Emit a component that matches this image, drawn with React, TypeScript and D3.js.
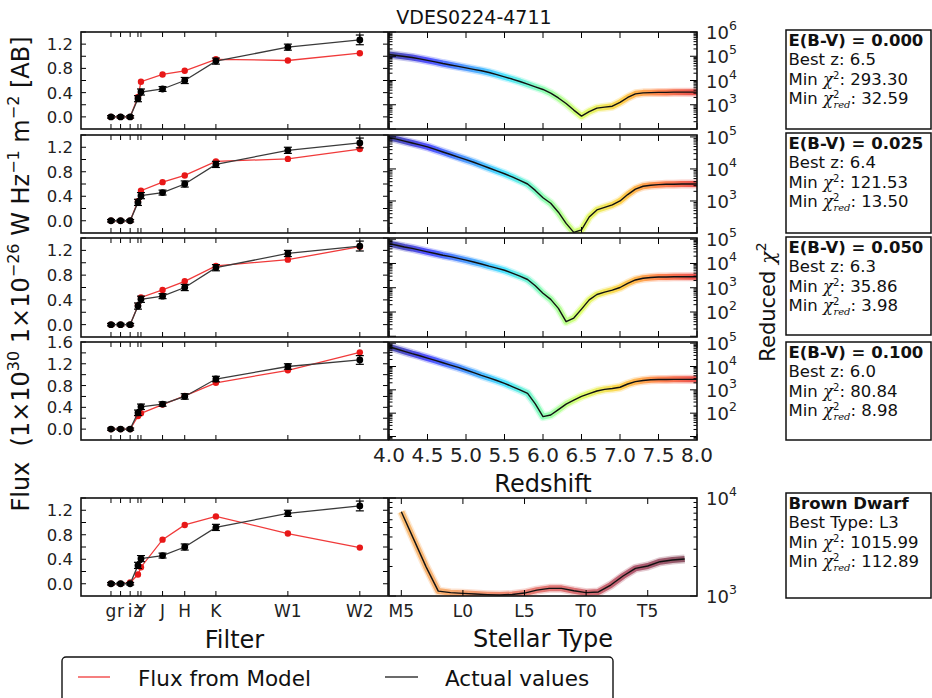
import * as d3 from 'd3';

// photometry (filter effective positions in micron, flux in 1e-26 W/Hz/m2)
const FILTERS = ['g', 'r', 'i', 'z', 'Y', 'J', 'H', 'K', 'W1', 'W2'];
const FILTER_WL = [0.45, 0.61, 0.77, 0.9, 0.95, 1.31, 1.68, 2.2, 3.4, 4.6];
const ACTUAL = [0, 0, 0, 0.3, 0.41, 0.46, 0.6, 0.92, 1.15, 1.27];
const ACTUAL_ERR = [0.02, 0.02, 0.02, 0.05, 0.05, 0.04, 0.05, 0.05, 0.05, 0.08];
const MODEL_000 = [0, 0, 0, 0.33, 0.58, 0.7, 0.76, 0.95, 0.93, 1.05];
const MODEL_025 = [0, 0, 0, 0.32, 0.49, 0.63, 0.74, 0.97, 1.01, 1.17];
const MODEL_050 = [0, 0, 0, 0.31, 0.44, 0.56, 0.7, 0.95, 1.05, 1.26];
const MODEL_100 = [0, 0, 0, 0.24, 0.29, 0.45, 0.61, 0.85, 1.08, 1.41];
const MODEL_BD = [0, 0, 0.02, 0.15, 0.27, 0.72, 0.96, 1.1, 0.82, 0.59];

// reduced chi2 vs redshift (log10)
const REDSHIFT = [4.0, 4.1, 4.2, 4.3, 4.4, 4.5, 4.6, 4.7, 4.8, 4.9, 5.0, 5.1, 5.2, 5.3, 5.4, 5.5, 5.6, 5.7, 5.8, 5.9,
  6.0, 6.1, 6.2, 6.3, 6.4, 6.5, 6.6, 6.7, 6.8, 6.9, 7.0, 7.1, 7.2, 7.3, 7.4, 7.5, 7.6, 7.7, 7.8, 7.9, 8.0];
const LOGCHI_000 = [5.07, 5.03, 4.99, 4.95, 4.89, 4.83, 4.77, 4.7, 4.64, 4.58, 4.52, 4.46, 4.4, 4.33, 4.24, 4.15, 4.06, 3.96, 3.85, 3.74,
  3.63, 3.48, 3.28, 3.05, 2.78, 2.53, 2.72, 2.86, 2.9, 2.94, 3.1, 3.3, 3.45, 3.49, 3.5, 3.51, 3.51, 3.52, 3.52, 3.52, 3.52];
const LOGCHI_025 = [4.98, 4.93, 4.87, 4.81, 4.75, 4.69, 4.61, 4.53, 4.45, 4.37, 4.29, 4.21, 4.12, 4.03, 3.94, 3.85, 3.75, 3.64, 3.53, 3.33,
  3.1, 2.93, 2.65, 2.3, 2.02, 2.1, 2.5, 2.72, 2.8, 2.88, 3.0, 3.2, 3.37, 3.46, 3.49, 3.51, 3.52, 3.52, 3.53, 3.53, 3.53];
const LOGCHI_050 = [4.82, 4.75, 4.68, 4.62, 4.55, 4.48, 4.41, 4.34, 4.28, 4.21, 4.14, 4.06, 3.98, 3.89, 3.81, 3.72, 3.6, 3.48, 3.34, 3.08,
  2.77, 2.52, 2.15, 1.6, 1.75, 2.12, 2.5, 2.72, 2.82, 2.9, 3.01, 3.18, 3.32, 3.39, 3.42, 3.44, 3.44, 3.45, 3.45, 3.45, 3.45];
const LOGCHI_100 = [4.85, 4.75, 4.65, 4.55, 4.46, 4.36, 4.26, 4.16, 4.06, 3.96, 3.85, 3.74, 3.62, 3.51, 3.4, 3.28, 3.14, 3.0, 2.85, 2.4,
  1.85, 1.92, 2.15, 2.39, 2.56, 2.72, 2.84, 2.95, 3.02, 3.06, 3.11, 3.25, 3.35, 3.4, 3.43, 3.44, 3.44, 3.45, 3.45, 3.45, 3.45];

// brown dwarf templates (M5 = 5 ... T8 = 28)
const SPT = [5, 6, 7, 8, 9, 10, 11, 12, 13, 14, 15, 16, 17, 18, 19, 20, 21, 22, 23, 24, 25, 26, 27, 28];
const LOGCHI_BD = [3.86, 3.58, 3.3, 3.05, 3.034, 3.027, 3.02, 3.014, 3.01, 3.016, 3.03, 3.06, 3.078, 3.078, 3.054, 3.034,
  3.041, 3.112, 3.204, 3.282, 3.306, 3.35, 3.367, 3.378];
const SPT_TICKS = [5, 10, 15, 20, 25];
const SPT_LABELS = ['M5', 'L0', 'L5', 'T0', 'T5'];

const EBV = ['0.000', '0.025', '0.050', '0.100'];
const BEST_Z = ['6.5', '6.4', '6.3', '6.0'];
const MIN_CHI2 = ['293.30', '121.53', '35.86', '80.84'];
const MIN_CHIRED = ['32.59', '13.50', '3.98', '8.98'];
const MODELS = [MODEL_000, MODEL_025, MODEL_050, MODEL_100];
const CHIS = [LOGCHI_000, LOGCHI_025, LOGCHI_050, LOGCHI_100];
const Z_TICKS = [4.0, 4.5, 5.0, 5.5, 6.0, 6.5, 7.0, 7.5, 8.0];

// layout
const FONT = 'DejaVu Sans, Verdana, sans-serif';
const LX0 = 81, LX1 = 388, RX0 = 389, RX1 = 697;
const ROWS = [[32, 129], [135, 233], [238, 337], [342, 440]];
const BD_ROW = [498, 596];
const FLUX_MAX = [1.4, 1.4, 1.4, 1.6];
const LOG_RANGE = [[2, 6], [2.0, 5.06], [0.97, 5.05], [0.85, 5.05]];
const LOG_LABELS = [[3, 4, 5, 6], [3, 4, 5], [2, 3, 4, 5], [2, 3, 4, 5]];
const BOX_X0 = 786, BOX_X1 = 931;
const BOX_ROWS = [[30, 129], [133, 233], [237, 335], [342, 440]];
const BD_BOX = [493, 598];

const xF = d3.scaleLinear().domain([-0.05, 5.07]).range([LX0, LX1]);
const xZ = d3.scaleLinear().domain([4, 8]).range([RX0, RX1]);
const xS = d3.scaleLinear().domain([4, 29]).range([RX0, RX1]);

function FluxPanel({ y0, y1, model, fmax }: any) {
  const y = d3.scaleLinear().domain([-0.2, fmax]).range([y1, y0]);
  const line = d3.line<number>().x((_, i) => xF(FILTER_WL[i])).y(d => y(d));
  const yt = d3.range(0, fmax + 0.001, 0.2);
  const labels = yt.filter(v => Math.round(v * 10) % 4 === 0);
  return (
    <g>
      <path d={line(model) || ''} fill="none" stroke="#f03a3a" strokeWidth={1.3} />
      {model.map((v: number, i: number) => <circle key={i} cx={xF(FILTER_WL[i])} cy={y(v)} r={3.2} fill="#e81818" />)}
      <path d={line(ACTUAL) || ''} fill="none" stroke="#3a3a3a" strokeWidth={1.3} />
      {ACTUAL.map((v, i) => {
        const cx = xF(FILTER_WL[i]), e = ACTUAL_ERR[i];
        return (
          <g key={i} stroke="#000" strokeWidth={1.2}>
            <line x1={cx} x2={cx} y1={y(v - e)} y2={y(v + e)} />
            <line x1={cx - 4} x2={cx + 4} y1={y(v - e)} y2={y(v - e)} />
            <line x1={cx - 4} x2={cx + 4} y1={y(v + e)} y2={y(v + e)} />
            <circle cx={cx} cy={y(v)} r={3.4} fill="#000" stroke="none" />
          </g>
        );
      })}
      <g stroke="#000" strokeWidth={1}>
        {FILTER_WL.map((w, i) => (
          <g key={i}>
            <line x1={xF(w)} x2={xF(w)} y1={y0} y2={y0 + 5} />
            <line x1={xF(w)} x2={xF(w)} y1={y1} y2={y1 - 5} />
          </g>
        ))}
        {yt.map((v, i) => (
          <g key={i}>
            <line x1={LX0} x2={LX0 + 5} y1={y(v)} y2={y(v)} />
            <line x1={LX1} x2={LX1 - 5} y1={y(v)} y2={y(v)} />
          </g>
        ))}
      </g>
      {labels.map((v, i) => (
        <text key={i} x={73} y={y(v) + 6} textAnchor="end" fontSize={16.5} fill="#222">{v.toFixed(1)}</text>
      ))}
      <rect x={LX0} y={y0} width={LX1 - LX0} height={y1 - y0} fill="none" stroke="#111" strokeWidth={1.6} />
    </g>
  );
}

function LogPanel({ y0, y1, xs, xs0, xsv, vals, lo, hi, labels, grad, xticks, clip }: any) {
  const y = d3.scaleLog().domain([10 ** lo, 10 ** hi]).range([y1, y0]);
  const line = d3.line<number>().x((_, i) => xs(xsv[i])).y(d => y(10 ** d));
  const path = line(vals) || '';
  const majors: number[] = [], minors: number[] = [];
  for (let k = Math.floor(lo); k <= Math.ceil(hi); k++) {
    if (k >= lo && k <= hi) majors.push(10 ** k);
    for (let m = 2; m <= 9; m++) {
      const v = m * 10 ** k;
      if (Math.log10(v) >= lo && Math.log10(v) <= hi) minors.push(v);
    }
  }
  return (
    <g>
      <clipPath id={clip}><rect x={xs0} y={y0} width={RX1 - xs0} height={y1 - y0} /></clipPath>
      <g clipPath={`url(#${clip})`}>
        <path d={path} fill="none" stroke={`url(#${grad})`} strokeWidth={9} strokeOpacity={0.22} strokeLinejoin="round" />
        <path d={path} fill="none" stroke={`url(#${grad})`} strokeWidth={6} strokeOpacity={0.6} strokeLinejoin="round" />
        <path d={path} fill="none" stroke="#111" strokeWidth={1.4} strokeLinejoin="round" />
      </g>
      <g stroke="#000" strokeWidth={1}>
        {xticks.map((t: number, i: number) => (
          <g key={i}>
            <line x1={xs(t)} x2={xs(t)} y1={y0} y2={y0 + 6} />
            <line x1={xs(t)} x2={xs(t)} y1={y1} y2={y1 - 6} />
          </g>
        ))}
        {majors.map((v, i) => (
          <g key={i}>
            <line x1={RX0} x2={RX0 + 7} y1={y(v)} y2={y(v)} />
            <line x1={RX1} x2={RX1 - 7} y1={y(v)} y2={y(v)} />
          </g>
        ))}
        {minors.map((v, i) => (
          <g key={i}>
            <line x1={RX0} x2={RX0 + 3.5} y1={y(v)} y2={y(v)} />
            <line x1={RX1} x2={RX1 - 3.5} y1={y(v)} y2={y(v)} />
          </g>
        ))}
      </g>
      {labels.map((k: number) => (
        <text key={k} x={706} y={y(10 ** k) + 7} fontSize={18} fill="#222">
          10<tspan dy={-9} fontSize={12.5}>{k}</tspan>
        </text>
      ))}
      <rect x={RX0} y={y0} width={RX1 - RX0} height={y1 - y0} fill="none" stroke="#111" strokeWidth={1.6} />
    </g>
  );
}

function Chi({ sub }: { sub?: boolean }) {
  return (
    <>
      <tspan fontFamily="DejaVu Serif, serif" fontStyle="italic">χ</tspan>
      <tspan dy={-6} fontSize={10}>2</tspan>
      {sub ? <tspan dx={-6} dy={10} fontSize={10} fontFamily="DejaVu Serif, serif" fontStyle="italic">red</tspan> : null}
      <tspan dy={sub ? -4 : 6}>:</tspan>
    </>
  );
}

function InfoBox({ y0, y1, title, line2, chi2, chired }: any) {
  const x = BOX_X0 + 2.5;
  return (
    <g fontSize={16.5} fill="#111">
      <rect x={BOX_X0} y={y0} width={BOX_X1 - BOX_X0} height={y1 - y0} fill="#fff" stroke="#111" strokeWidth={1.5} />
      <text x={x} y={y0 + 15.5} fontWeight="bold">{title}</text>
      <text x={x} y={y0 + 35}>{line2}</text>
      <text x={x} y={y0 + 55} style={{ whiteSpace: 'pre' }}>Min <Chi /> {chi2}</text>
      <text x={x} y={y0 + 74} style={{ whiteSpace: 'pre' }}>Min <Chi sub /> {chired}</text>
    </g>
  );
}

export default function App() {
  const jet = ['#00007f', '#0000ff', '#0070ff', '#00d8ff', '#60ff98', '#d0ff30', '#ffc000', '#ff5000', '#e00000'];
  const heat = ['#f7a23a', '#f5862e', '#e85a30', '#d83a34', '#c02a34', '#8a1030', '#5a0a22'];
  return (
    <svg width={932} height={698} style={{ position: 'absolute', left: 0, top: 0, background: '#fff' }} fontFamily={FONT}>
      <defs>
        <linearGradient id="jet" gradientUnits="userSpaceOnUse" x1={RX0} x2={RX1} y1={0} y2={0}>
          {jet.map((c, i) => <stop key={i} offset={i / (jet.length - 1)} stopColor={c} />)}
        </linearGradient>
        <linearGradient id="heat" gradientUnits="userSpaceOnUse" x1={xS(5)} x2={xS(28)} y1={0} y2={0}>
          {heat.map((c, i) => <stop key={i} offset={i / (heat.length - 1)} stopColor={c} />)}
        </linearGradient>
      </defs>
      <rect width={932} height={698} fill="#fff" />
      <text x={474} y={24} textAnchor="middle" fontSize={19} fill="#111">VDES0224-4711</text>

      {ROWS.map(([y0, y1], i) => (
        <g key={i}>
          <FluxPanel y0={y0} y1={y1} model={MODELS[i]} fmax={FLUX_MAX[i]} />
          <LogPanel y0={y0} y1={y1} xs={xZ} xs0={RX0} xsv={REDSHIFT} vals={CHIS[i]} lo={LOG_RANGE[i][0]} hi={LOG_RANGE[i][1]}
            labels={LOG_LABELS[i]} grad="jet" xticks={Z_TICKS} clip={`c${i}`} />
          <InfoBox y0={BOX_ROWS[i][0]} y1={BOX_ROWS[i][1]} title={`E(B-V) = ${EBV[i]}`} line2={`Best z: ${BEST_Z[i]}`}
            chi2={MIN_CHI2[i]} chired={MIN_CHIRED[i]} />
        </g>
      ))}
      {Z_TICKS.map(t => (
        <text key={t} x={xZ(t)} y={462} textAnchor="middle" fontSize={20} fill="#222">{t.toFixed(1)}</text>
      ))}
      <text x={543} y={492} textAnchor="middle" fontSize={24} fill="#111">Redshift</text>

      <FluxPanel y0={BD_ROW[0]} y1={BD_ROW[1]} model={MODEL_BD} fmax={1.4} />
      <LogPanel y0={BD_ROW[0]} y1={BD_ROW[1]} xs={xS} xs0={RX0} xsv={SPT} vals={LOGCHI_BD} lo={3} hi={4}
        labels={[3, 4]} grad="heat" xticks={SPT_TICKS} clip="cbd" />
      <InfoBox y0={BD_BOX[0]} y1={BD_BOX[1]} title="Brown Dwarf" line2="Best Type: L3" chi2="1015.99" chired="112.89" />
      {FILTERS.map((f, i) => (
        <text key={f} x={xF(FILTER_WL[i])} y={617} textAnchor="middle" fontSize={17} fill="#222">{f}</text>
      ))}
      {SPT_TICKS.map((t, i) => (
        <text key={t} x={xS(t)} y={617} textAnchor="middle" fontSize={17} fill="#222">{SPT_LABELS[i]}</text>
      ))}
      <text x={234.5} y={648} textAnchor="middle" fontSize={24} fill="#111">Filter</text>
      <text x={543} y={647} textAnchor="middle" fontSize={24} fill="#111">Stellar Type</text>

      <text transform="translate(29,274) rotate(-90)" textAnchor="middle" fontSize={24} fill="#111" style={{ whiteSpace: 'pre' }}>
        Flux  (1×10<tspan dy={-10} fontSize={16}>30</tspan><tspan dy={10}> 1×10</tspan><tspan dy={-10} fontSize={16}>−26</tspan>
        <tspan dy={10}> W Hz</tspan><tspan dy={-10} fontSize={16}>−1</tspan><tspan dy={10}> m</tspan>
        <tspan dy={-10} fontSize={16}>−2</tspan><tspan dy={10}> [AB]</tspan>
      </text>
      <text transform="translate(775,302) rotate(-90)" textAnchor="middle" fontSize={21} fill="#111">
        Reduced <tspan fontFamily="DejaVu Serif, serif" fontStyle="italic">χ</tspan><tspan dy={-9} fontSize={14}>2</tspan>
      </text>

      <rect x={62} y={657} width={551} height={60} rx={4} fill="#fff" stroke="#111" strokeWidth={1.4} />
      <line x1={78} x2={110} y1={677} y2={677} stroke="#f03a3a" strokeWidth={1.3} />
      <text x={138} y={686} fontSize={21.5} fill="#111">Flux from Model</text>
      <line x1={385} x2={418} y1={677} y2={677} stroke="#3a3a3a" strokeWidth={1.3} />
      <text x={445} y={686} fontSize={21.5} fill="#111">Actual values</text>
    </svg>
  );
}
